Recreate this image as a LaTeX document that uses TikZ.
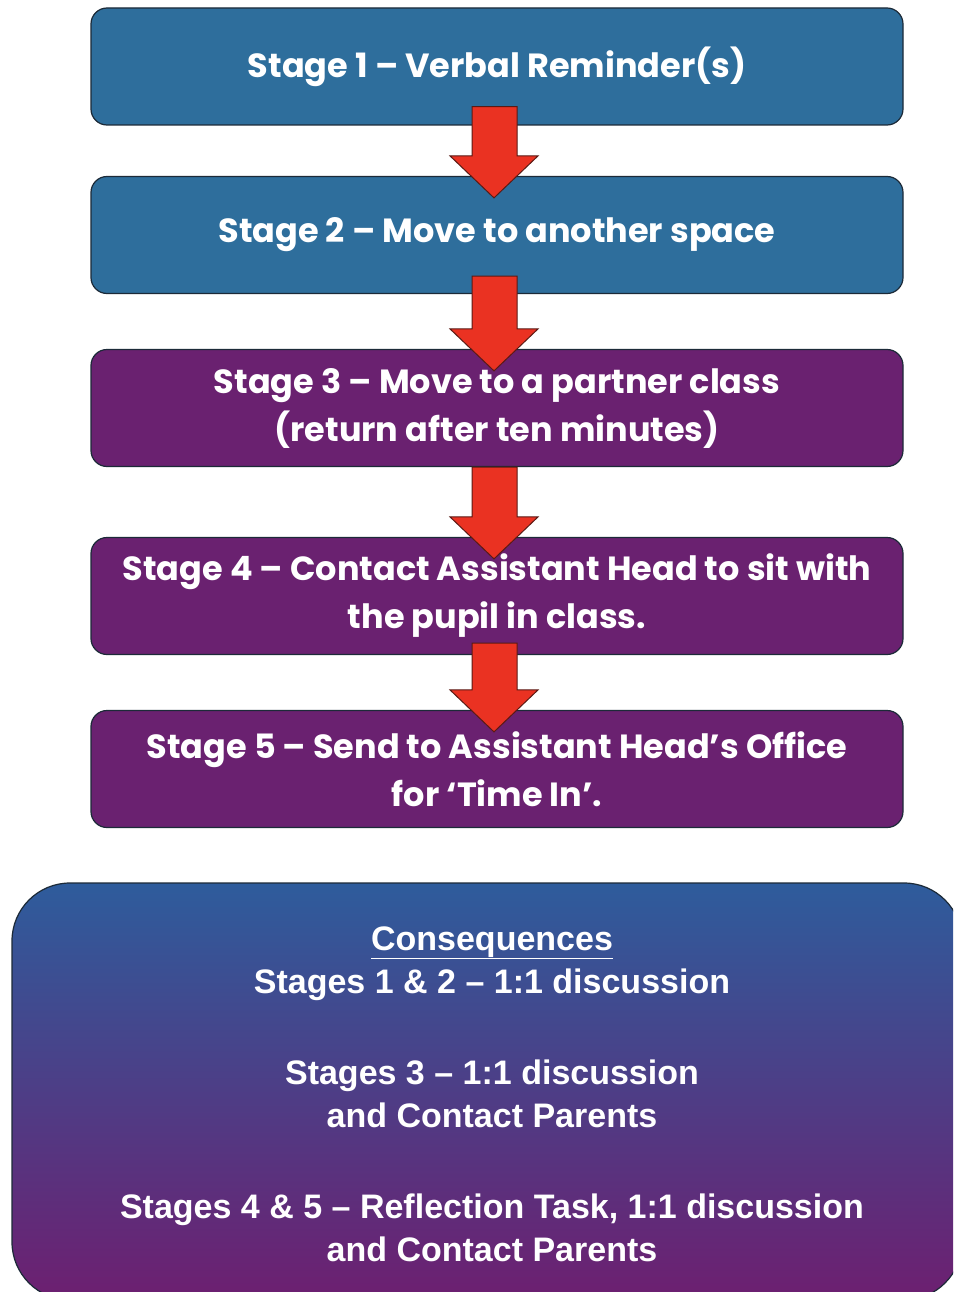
\documentclass[tikz,border=0pt]{standalone}
\usepackage{fontspec}
\setmainfont{Poppins}
\newfontfamily\consfont{Liberation Sans}
\usetikzlibrary{calc}
\definecolor{stageblue}{HTML}{2E6E9C}
\definecolor{stagepurple}{HTML}{6A2170}
\definecolor{edgedark}{HTML}{1C2A38}
\definecolor{arrowred}{HTML}{EA3222}
\definecolor{arrowedge}{HTML}{5A1A14}
\definecolor{gradtop}{HTML}{2E5C9C}
\definecolor{gradbot}{HTML}{6D1F70}
\tikzset{
  stagebox/.style={draw=edgedark, line width=1.2pt, rounded corners=16pt,
    minimum width=812pt, minimum height=117pt, align=center, text=white,
    font=\fontsize{33.5}{48}\selectfont\bfseries, inner sep=0pt},
  redarrow/.style={fill=arrowred, draw=arrowedge, line width=1pt, line join=miter},
}
\newcommand{\stagearrow}[3]{%
  \draw[redarrow] ($(#1.south)+(-25,-#3)$) -- ($(#1.south)+(20,-#3)$)
    -- ($(#2.north)+(20,-20)$) -- ($(#2.north)+(41,-20)$)
    -- ($(#2.north)+(-3,22)$) -- ($(#2.north)+(-47,-20)$)
    -- ($(#2.north)+(-25,-20)$) -- cycle;}
\begin{document}
\begin{tikzpicture}[x=1pt,y=-1pt]
\useasboundingbox (0,0) rectangle (953,1292);
\clip (0,0) rectangle (953,1292);
\fill[white] (0,0) rectangle (953,1292);

\node[stagebox, fill=stageblue] (s1) at (497,66.5) {Stage 1 – Verbal Reminder(s)};
\node[stagebox, fill=stageblue] (s2) at (497,235) {Stage 2 – Move to another space};
\node[stagebox, fill=stagepurple] (s3) at (497,408) {Stage 3 – Move to a partner class\\(return after ten minutes)};
\node[stagebox, fill=stagepurple] (s4) at (497,596) {Stage 4 – Contact Assistant Head to sit with\\the pupil in class.};
\node[stagebox, fill=stagepurple] (s5) at (497,769) {Stage 5 – Send to Assistant Head’s Office\\for ‘Time In’.};

\stagearrow{s1}{s2}{19}
\stagearrow{s2}{s3}{18}
\stagearrow{s3}{s4}{0}
\stagearrow{s4}{s5}{12}

\node[draw=edgedark, line width=1.2pt, rounded corners=58pt,
  top color=gradtop, bottom color=gradbot,
  minimum width=950pt, minimum height=417pt, inner sep=0pt] (consbox) at (487,1091.5) {};
\node[text=white, align=center, font=\consfont\fontsize{34}{43}\selectfont\bfseries] (cons) at (492,1094)
  {\underline{Consequences}\\
   Stages 1 \& 2 – 1:1 discussion\\[48pt]
   Stages 3 – 1:1 discussion\\
   and Contact Parents\\[48pt]
   Stages 4 \& 5 – Reflection Task, 1:1 discussion\\
   and Contact Parents};
\end{tikzpicture}
\end{document}
